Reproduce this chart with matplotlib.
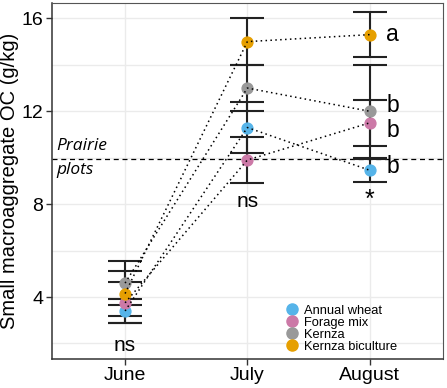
import matplotlib
matplotlib.use("Agg")
import matplotlib.pyplot as plt
from matplotlib.lines import Line2D

plt.rcParams['font.family'] = ['Liberation Sans', 'DejaVu Sans']

months = ["June", "July", "August"]
series = ["Annual wheat", "Forage mix", "Kernza", "Kernza biculture"]
colors = ["#56B4E9", "#CC79A7", "#999999", "#E69F00"]
means = {
    "Annual wheat":     [3.40, 11.30, 9.46],
    "Forage mix":       [3.75, 9.90, 11.50],
    "Kernza":           [4.60, 13.00, 12.00],
    "Kernza biculture": [4.15, 15.00, 15.30],
}
errs = {
    "Annual wheat":     [0.50, 1.08, 0.50],
    "Forage mix":       [0.88, 1.00, 1.00],
    "Kernza":           [0.95, 1.00, 2.00],
    "Kernza biculture": [0.97, 1.00, 0.98],
}
prairie = 9.95
month_labels = ["ns", "ns", "*"]
aug_letters = {"Kernza biculture": "a", "Kernza": "b", "Forage mix": "b", "Annual wheat": "b"}
letter_y = {"Kernza biculture": 15.32, "Kernza": 12.26, "Forage mix": 11.19, "Annual wheat": 9.6}

fig = plt.figure(figsize=(4.47, 3.88), dpi=100)
ax = fig.add_axes([0.1157, 0.0747, 0.8753, 0.918])

x = [1, 2, 3]
for s, c in zip(series, colors):
    ax.errorbar(x, means[s], yerr=errs[s], fmt='none', ecolor='#222222',
                elinewidth=1.5, capsize=12, capthick=1.5, zorder=3)
for s, c in zip(series, colors):
    ax.plot(x, means[s], 'o', color=c, markersize=7.8, markeredgecolor=c,
            zorder=4)
for s, c in zip(series, colors):
    ax.plot(x, means[s], linestyle=(0, (1, 2.2)), color='black', lw=1.1, zorder=5)

ax.axhline(prairie, color='black', lw=0.9, linestyle=(0, (4, 3)), zorder=2)
ax.text(0.44, prairie + 0.2, "Prairie", fontsize=12.5, style='italic',
        family=['Open Sans', 'DejaVu Sans'], va='bottom', ha='left')
ax.text(0.44, prairie - 0.15, "plots", fontsize=12.5, style='italic',
        family=['Open Sans', 'DejaVu Sans'], va='top', ha='left')

ax.text(1, 1.93, month_labels[0], fontsize=15, ha='center', va='center')
ax.text(2, 8.1, month_labels[1], fontsize=15, ha='center', va='center')
ax.text(3, 8.2, month_labels[2], fontsize=18, ha='center', va='center')
for s in series:
    ax.text(3.19, letter_y[s], aug_letters[s], fontsize=16.5, ha='center', va='center')

ax.set_xlim(0.4, 3.6)
ax.set_ylim(1.33, 16.67)
ax.set_xticks(x)
ax.set_xticklabels(months)
ax.set_yticks([4, 8, 12, 16])
ax.set_yticks([2, 6, 10, 14], minor=True)
ax.tick_params(axis='y', which='minor', length=0)
ax.tick_params(axis='both', which='major', labelsize=14, length=4,
               color='#333333', width=1, pad=2)
ax.grid(True, which='both', color='#EBEBEB', lw=1, zorder=0)
ax.set_axisbelow(True)
ax.set_ylabel("Small macroaggregate OC (g/kg)", fontsize=14.5, labelpad=2)
for side in ['left', 'bottom']:
    ax.spines[side].set_color('#333333')
    ax.spines[side].set_linewidth(1.1)
for side in ['top', 'right']:
    ax.spines[side].set_color('#555555')
    ax.spines[side].set_linewidth(0.8)

handles = [Line2D([], [], marker='o', linestyle='none', color=c, markersize=8)
           for c in colors]
leg = ax.legend(handles, series, loc='lower left', bbox_to_anchor=(0.575, -0.012),
                frameon=False, fontsize=9.3, handlelength=0.8, handletextpad=0.5,
                labelspacing=0.0, borderpad=0.3)

fig.savefig("out.png", dpi=100)
